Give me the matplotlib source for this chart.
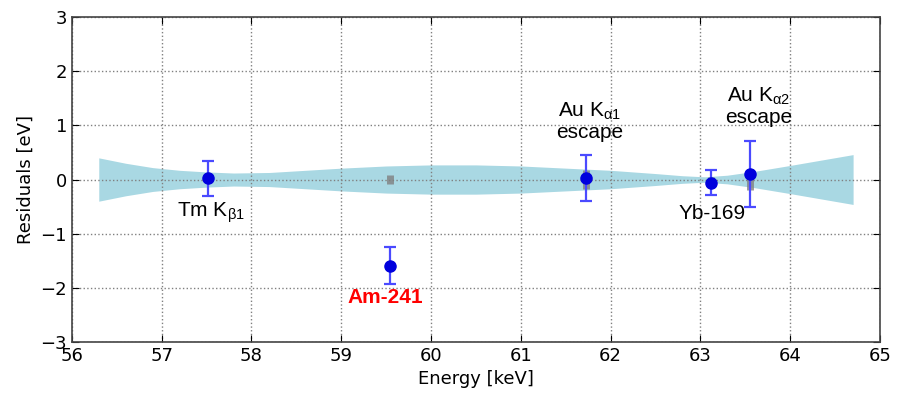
import numpy as np
import matplotlib
matplotlib.use("Agg")
import matplotlib.pyplot as plt

plt.rcParams["mathtext.fontset"] = "custom"
plt.rcParams["mathtext.rm"] = "Liberation Sans"
plt.rcParams["mathtext.it"] = "Liberation Sans"
plt.rcParams["mathtext.bf"] = "Liberation Sans:bold"

# measured lines: energy [keV], residual [eV], error [eV]
energy = [57.52, 59.54, 61.73, 63.12, 63.55]
resid = [0.02, -1.59, 0.03, -0.06, 0.11]
err = [0.33, 0.34, 0.42, 0.23, 0.61]

# reference line uncertainty (gray bars)
ref_energy = [59.54, 61.73, 63.12, 63.55]
ref_err = [0.09, 0.18, 0.04, 0.20]

# calibration uncertainty band (half width)
band_x = [56.3, 56.6, 56.9, 57.2, 57.5, 57.8, 58.2, 58.6, 59.0, 59.5, 60.0,
          60.5, 61.0, 61.5, 62.0, 62.5, 62.8, 63.05, 63.3, 63.6, 64.0, 64.35, 64.7]
band_hw = [0.40, 0.30, 0.22, 0.17, 0.14, 0.12, 0.13, 0.17, 0.21, 0.25, 0.27,
           0.27, 0.25, 0.21, 0.17, 0.11, 0.07, 0.05, 0.08, 0.15, 0.26, 0.36, 0.46]

labels = ["Tm K$_{\u03b21}$", "Am-241", "Au K$_{\u03b11}$\nescape", "Yb-169", "Au K$_{\u03b12}$\nescape"]
label_pos = [(57.55, -0.62), (59.49, -2.18), (61.77, 1.07), (63.13, -0.62), (63.65, 1.35)]

fig = plt.figure(figsize=(8.98, 3.95), dpi=100)
ax = fig.add_axes([0.080, 0.134, 0.900, 0.823])

bx = np.array(band_x)
bh = np.array(band_hw)
ax.fill_between(bx, -bh, bh, color="#a9d8e3", lw=0, zorder=1)

ax.errorbar(ref_energy, [0] * len(ref_energy), yerr=ref_err, fmt="none",
            ecolor="gray", elinewidth=5, capsize=0, alpha=0.8, zorder=2)
ax.errorbar(energy, resid, yerr=err, fmt="o", color="#0000dd", ms=8,
            ecolor="#4a4aff", elinewidth=1.6, capsize=4, capthick=1.6, zorder=3)

for i, t in enumerate(labels):
    x, y = label_pos[i]
    if t == "Am-241":
        ax.text(x, y, t, ha="center", va="center", color="red", fontsize=15,
                fontweight="bold", family="Liberation Sans")
    else:
        ax.text(x, y, t, ha="center", va="center", color="black", fontsize=15,
                family="Liberation Sans", linespacing=1.05)

ax.set_xlim(56, 65)
ax.set_ylim(-3, 3)
ax.set_xticks(range(56, 66))
ax.set_yticks(range(-3, 4))
ax.grid(True, ls=":", color="gray", lw=1)
ax.tick_params(direction="in", labelsize=13, top=True, right=True, length=5)
for s in ax.spines.values():
    s.set_color("#444444")
    s.set_linewidth(1.2)
ax.set_xlabel("Energy [keV]", fontsize=13)
ax.set_ylabel("Residuals [eV]", fontsize=13)

fig.savefig("out.png", dpi=100)
